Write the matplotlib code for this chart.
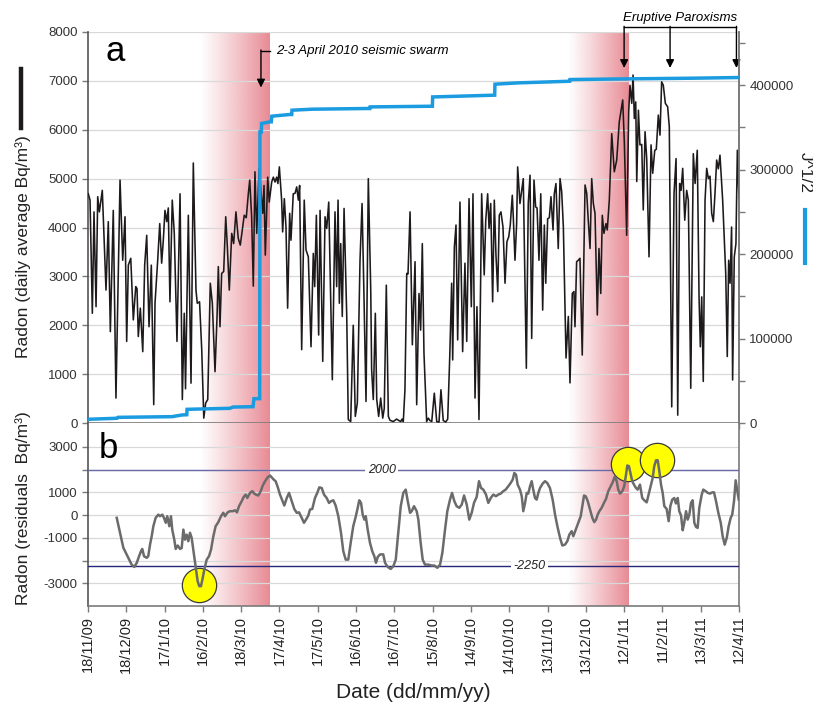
import matplotlib
matplotlib.use("Agg")
import matplotlib.pyplot as plt
import matplotlib.dates as mdates
import matplotlib.transforms as mtransforms
from matplotlib.lines import Line2D
import numpy as np
from datetime import datetime

plt.rcParams['font.family'] = ['Liberation Sans', 'DejaVu Sans']

# ---------------- data ----------------
start_date = "18/11/09"
tick_labels = ["18/11/09", "18/12/09", "17/1/10", "16/2/10", "18/3/10", "17/4/10",
               "17/5/10", "16/6/10", "16/7/10", "15/8/10", "14/9/10", "14/10/10",
               "13/11/10", "13/12/10", "12/1/11", "11/2/11", "13/3/11", "12/4/11"]

# radon daily average (days since 18/11/09, Bq/m3)
radon_day = [0.2,1.6,3.4,4.7,6.3,7.6,8.9,11.2,14.1,15.9,
             17.5,19.8,21.9,25.1,27.2,29.0,30.3,31.6,33.5,35.5,
             37.4,38.4,39.4,41.0,42.9,44.4,46.0,47.8,49.6,51.5,
             52.5,54.6,56.2,57.7,59.0,60.3,61.7,62.9,64.2,66.0,
             67.6,69.7,72.1,73.9,75.4,76.4,78.6,80.7,82.5,84.6,
             85.6,87.4,89.1,90.7,92.2,93.8,95.8,97.4,99.5,101.1,
             102.1,103.4,104.7,106.3,107.9,109.1,110.7,112.6,114.1,115.9,
             117.7,119.3,121.2,122.4,124.0,125.6,126.7,128.2,129.5,130.8,
             132.2,134.0,135.5,136.9,137.9,138.9,140.8,142.0,143.9,145.2,
             146.5,147.8,148.8,149.9,151.7,152.5,153.8,155.1,156.4,158.0,
             159.0,160.8,162.2,163.5,164.8,165.8,167.4,169.4,170.8,172.6,
             174.7,176.5,177.6,178.9,180.7,181.8,183.9,185.7,187.0,188.6,
             191.4,193.5,194.8,195.9,196.9,198.0,199.2,200.6,202.7,203.9,
             205.8,207.8,209.4,211.0,213.1,214.7,216.0,217.8,219.6,221.5,
             222.2,223.5,225.1,226.2,227.7,229.3,230.9,232.1,233.7,235.3,
             236.6,239.2,241.8,243.6,245.0,246.0,247.0,248.3,249.7,250.7,
             252.3,254.1,256.2,257.5,259.3,260.6,261.9,263.2,265.3,266.6,
             267.9,269.3,271.3,273.2,275.0,276.5,278.3,280.2,281.8,283.4,
             284.9,285.7,287.0,288.3,289.6,291.4,293.5,295.3,296.7,298.5,
             300.3,301.6,303.2,304.7,306.3,308.4,310.4,311.6,313.1,314.2,
             315.5,317.0,318.3,319.6,321.0,322.2,323.5,325.1,326.7,328.2,
             329.6,330.8,332.4,333.2,334.5,335.8,336.6,338.4,339.8,341.0,
             343.4,344.9,346.3,347.6,349.4,350.7,351.8,353.3,354.7,356.2,
             357.5,358.6,360.1,361.4,362.7,364.3,365.3,366.6,368.4,369.8,
             371.1,372.4,374.5,376.3,377.6,379.4,380.7,381.5,382.8,384.1,
             385.4,387.2,389.4,390.7,391.9,393.3,394.6,395.9,397.2,399.0,
             400.3,401.7,402.9,404.2,405.8,406.8,408.4,410.3,412.3,414.2,
             416.2,418.9,420.2,422.0,423.6,424.6,426.0,427.0,428.0,429.1,
             429.9,431.2,432.4,433.8,435.0,436.4,437.7,439.5,441.1,442.4,
             444.0,445.2,446.8,448.1,449.4,450.7,452.3,454.1,455.4,457.3,
             459.1,460.7,462.0,463.5,464.6,465.9,467.5,469.0,470.3,472.2,
             474.2,475.6,477.3,478.7,479.7,480.8,482.0,483.4,484.7,486.0,
             487.3,488.6,489.9,491.2,492.5,493.8,495.1,497.2,499.6,500.8,
             501.9,503.0,504.2,505.0,506.3,507.6,508.7,510.0]
radon_val = [4690,4560,2245,4320,2380,4630,4320,4760,2720,4120,
             1870,4350,510,4970,3330,4220,1670,3230,3370,2110,
             2790,2750,1770,2350,1460,3230,3840,1970,3230,375,
             2450,3330,4080,3270,3740,4350,4120,4400,2480,4560,
             3880,1670,4690,480,2245,700,4250,815,5320,2720,
             2450,2480,1500,100,410,480,2860,2450,1050,2180,
             3200,1970,3060,3100,4220,3640,2720,3880,3670,4320,
             3780,3640,4010,4250,4200,4690,4970,4220,2800,5140,
             3880,5200,4760,4290,4860,3435,5030,4520,4930,5030,
             4930,5030,4900,5240,4560,3910,4590,4010,2350,4290,
             3740,4690,4700,4830,4560,4860,1500,4560,3540,3400,
             1560,3470,2790,4250,1800,4350,1260,4220,3980,4520,
             885,4320,2790,4560,2450,3670,2180,4390,2180,70,
             30,2000,135,410,3330,4490,2860,440,5000,2720,
             1090,480,2245,480,135,510,100,300,2820,135,
             55,30,80,50,30,80,30,680,3060,3050,
             4320,1600,3300,375,2650,1900,3670,1430,30,100,
             50,30,610,30,20,680,50,20,80,1360,
             2860,1290,3600,4050,1700,4520,1460,3270,1670,4590,
             2380,4690,510,2380,70,4690,3030,4150,4690,3980,
             4490,2480,4560,3435,2690,4250,4320,4010,2860,3710,
             3810,4050,4660,4200,3330,4080,5240,4490,4760,5000,
             1120,4490,5070,1730,4970,4420,4400,3330,4690,2310,
             4050,2860,4180,4200,4630,3950,4690,4900,3570,5000,
             4730,4010,1330,2180,820,2650,2690,1970,3300,3330,
             3370,1390,4870,4700,4150,3570,5000,4490,4290,2210,
             3570,2650,4250,3880,4080,3950,4560,5920,5140,5380,
             6160,6610,5720,3840,6370,6910,6540,7120,6230,6570,
             4940,6400,5690,5700,4360,5960,5410,3400,5690,5110,
             5580,5600,6300,5890,6980,6910,6540,6470,6060,330,
             4700,5410,160,4900,4760,5210,4150,4760,4560,710,
             5510,4900,5580,2580,1560,2580,850,4560,5210,5000,
             5050,4290,4120,4700,5380,5200,5480,4560,3060,1360,
             3330,2860,4010,880,3400,3670,5580,4600]

# cumulative J^1/2 (days since 18/11/09)
cum_day = [0, 22.7, 23.5, 65.8, 73.6, 77.4, 77.6, 111.2, 113.6, 129.3, 130.0,
           134.5, 134.7, 135.8, 136.0, 142.6, 143.6, 144.0, 158.0, 159.6, 159.8,
           176.0, 218.6, 220.8, 221.0, 269.8, 270.0, 318.6, 318.8, 336.0, 377.4,
           377.6, 423.0, 474.0, 510.0]
cum_val = [4400, 5600, 6700, 7500, 9500, 9800, 16200, 17400, 18900, 19300, 28800,
           28800, 344700, 344700, 354700, 356600, 356600, 363300, 365300, 365300, 370400,
           371600, 372400, 372400, 374300, 375100, 386100, 388200, 401200, 402700, 404700,
           406700, 407500, 408300, 409100]

# radon residuals (days since 18/11/09, Bq/m3)
resid_day = [22.5,25.1,27.7,29.0,31.6,34.2,36.3,38.2,40.0,41.5,
             42.5,43.9,46.0,47.2,48.6,49.9,51.2,53.0,55.1,56.4,
             58.2,59.5,60.9,62.1,63.7,65.0,66.0,67.6,68.7,70.3,
             72.1,73.4,74.7,76.0,77.3,78.6,79.9,81.2,83.0,84.6,
             85.9,87.2,88.5,89.9,91.1,93.0,94.8,96.4,98.2,100.0,
             102.1,104.2,106.0,107.3,109.4,111.2,113.4,115.2,116.7,118.3,
             120.4,122.0,123.5,124.8,126.9,128.7,130.3,131.6,133.4,135.3,
             136.9,138.7,140.8,142.6,143.9,145.5,147.0,148.6,150.4,152.2,
             153.8,155.7,157.5,159.6,161.6,163.5,165.3,167.4,169.2,170.8,
             172.6,173.9,175.7,177.8,179.6,181.2,183.1,184.9,187.0,188.8,
             190.4,192.2,194.0,196.1,198.2,200.0,201.9,203.9,205.8,207.8,
             209.7,211.3,212.5,213.9,215.2,216.5,217.6,219.1,220.9,222.7,
             224.3,225.6,227.0,228.8,231.3,232.7,234.8,237.1,239.2,241.1,
             243.1,245.0,247.0,248.9,250.5,252.3,253.6,255.4,257.5,258.8,
             260.6,262.2,264.0,266.6,269.3,271.3,273.7,275.8,277.6,279.7,
             281.5,283.6,285.2,287.0,288.8,290.9,292.8,294.6,296.7,298.7,
             300.6,302.4,304.5,306.3,307.9,309.7,311.8,313.6,315.5,317.5,
             319.6,321.4,323.3,325.3,327.2,329.3,331.1,332.7,334.0,335.3,
             336.6,338.4,339.8,341.0,342.4,343.7,344.9,346.3,347.6,348.8,
             350.2,351.5,352.8,354.1,356.2,358.0,359.8,361.9,364.0,365.9,
             367.7,369.8,371.6,373.7,375.5,377.1,378.9,380.2,382.1,384.1,
             386.0,387.5,388.6,389.9,391.5,393.3,395.1,396.6,398.0,399.3,
             400.6,402.4,404.2,405.8,407.6,409.5,411.0,412.6,414.2,415.4,
             416.8,418.6,420.1,421.5,422.5,423.8,425.2,426.4,427.7,429.3,
             430.6,432.4,434.2,435.8,437.7,439.2,440.8,442.4,443.6,445.0,
             446.3,447.6,448.9,450.2,451.5,453.3,454.9,456.2,457.7,459.3,
             460.6,462.0,463.2,464.6,465.9,467.1,468.5,469.8,471.1,472.4,
             473.7,475.0,476.3,477.6,478.9,480.8,482.0,483.9,485.5,487.3,
             489.1,490.4,492.0,493.8,495.7,497.2,498.8,500.4,501.9,503.5,
             504.7,506.1,507.4,508.7,509.8]
resid_val = [-120,-780,-1440,-1590,-1880,-2180,-2280,-2100,-1810,-1590,
             -1490,-1810,-1880,-1810,-1300,-930,-490,-120,20,-50,
             20,-120,-340,-50,-490,-50,-640,-1080,-1490,-1340,
             -1490,-1450,-640,-1080,-860,-1150,-780,-1000,-1730,-2400,
             -2910,-3130,-3130,-2760,-2400,-1960,-1810,-1520,-930,-490,
             -310,-50,100,-50,120,170,170,210,120,390,
             610,800,900,750,975,1050,945,900,860,1050,
             1300,1490,1660,1740,1660,1560,1490,1240,900,650,
             420,750,975,610,270,100,120,-120,-340,-200,
             -20,240,270,750,975,1220,1190,900,750,535,
             610,650,420,-50,-780,-1590,-1960,-1960,-1220,-490,
             -80,320,650,535,20,-200,-50,-640,-1220,-1590,
             -1810,-2100,-1840,-1730,-1730,-2100,-2280,-2370,-2250,-1960,
             -780,390,975,1120,610,100,170,390,170,-200,
             -1220,-1960,-2180,-2180,-2220,-2220,-2320,-2180,-1660,-640,
             170,680,975,610,390,320,460,860,460,-200,
             100,535,800,1490,1190,1120,900,535,750,900,
             830,900,945,1050,1120,1270,1410,1560,1850,1780,
             1340,1120,830,170,535,975,945,1270,1490,1120,
             750,680,975,1190,1385,1490,1410,1190,680,20,
             -490,-1000,-1340,-1300,-1150,-860,-710,-930,-640,-340,
             -50,460,860,830,610,240,-120,-310,-200,20,
             170,320,535,710,1050,1270,1440,1680,1490,1120,
             945,1050,1270,1780,2180,2150,1780,1490,1340,1190,
             1120,1340,750,650,560,900,1270,1640,2150,2410,
             2410,1930,1340,975,390,270,-270,390,680,750,
             510,750,170,-20,-670,-340,170,-200,20,535,
             650,-340,-520,-565,320,900,1120,1050,975,945,
             1000,1000,610,100,-340,-930,-1300,-1000,-490,-120,
             20,610,1530,1050,680]

thresholds = [2000, -2250]
threshold_labels = ["2000", "-2250"]
threshold_label_day = [230, 346]

# shaded periods (days since start): fade start, sharp end
shade_periods = [(88, 142.6), (376, 423.3)]
# highlighted anomalies (day, residual)
anomaly_day = [87.1, 423.0, 445.9]
anomaly_val = [-3060, 2240, 2430]

swarm_date = datetime(2010, 4, 2, 12)
paroxysm_dates = [datetime(2011, 1, 12), datetime(2011, 2, 17), datetime(2011, 4, 10)]

# ---------------- figure ----------------
W, H = 813, 708
fig = plt.figure(figsize=(W / 100, H / 100), dpi=100)
L, R = 88, 739
ax1 = fig.add_axes([L / W, (H - 423) / H, (R - L) / W, (423 - 32) / H])
ax3 = fig.add_axes([L / W, (H - 606) / H, (R - L) / W, (606 - 423) / H], sharex=ax1)
ax2 = ax1.twinx()

t0 = mdates.date2num(datetime.strptime(start_date, "%d/%m/%y"))
tick_x = [mdates.date2num(datetime.strptime(s, "%d/%m/%y")) for s in tick_labels]

xr = t0 + np.array(radon_day)
xc = t0 + np.array(cum_day)
xs = t0 + np.array(resid_day)

black = "#1e1a1b"
blue = "#1b9be0"
gray_line = "#6b6b6b"
grid_c = "#d9d9d9"
spine_c = "#7a7a7a"
shade_rgb = np.array([232, 138, 148]) / 255.0

ax1.plot(xr, radon_val, color=black, lw=1.15, zorder=3, solid_joinstyle='round')
ax2.plot(xc, cum_val, color=blue, lw=2.5, zorder=3, solid_joinstyle='miter')
ax3.plot(xs, resid_val, color=gray_line, lw=1.8, zorder=4, solid_joinstyle='round')

ax1.set_ylim(0, 8000)
ax2.set_ylim(0, 463000)
ax3.set_ylim(-4000, 4050)


def shade(ax, d0, d1, ylo, yhi):
    n = 256
    g = np.zeros((2, n, 4))
    g[..., :3] = shade_rgb
    g[..., 3] = np.linspace(0, 1, n) ** 1.1
    ax.imshow(g, extent=[t0 + d0, t0 + d1, ylo, yhi], aspect='auto',
              interpolation='bilinear', zorder=0.2, origin='lower')


for d0, d1 in shade_periods:
    shade(ax1, d0, d1, 0, 8000)
    shade(ax3, d0, d1, -4000, 4050)

ax1.set_xlim(tick_x[0], tick_x[-1])
ax1.set_ylim(0, 8000)
ax3.set_ylim(-4000, 4050)

# thresholds
thr_colors = ["#6a6aaa", "#26267a"]
for v, lab, d, c in zip(thresholds, threshold_labels, threshold_label_day, thr_colors):
    ax3.axhline(v, color=c, lw=1.0, zorder=3)
    ax3.text(t0 + d, v, lab, ha='center', va='center', fontsize=9, style='italic',
             color="#222222", zorder=5,
             bbox=dict(facecolor='white', edgecolor='none', pad=1.5))

ax3.scatter(t0 + np.array(anomaly_day), anomaly_val, s=610, c="#ffff00",
            edgecolors="#3a3a3a", linewidths=0.9, zorder=3.5)

# grids
for ax in (ax1, ax3):
    ax.set_axisbelow(True)
    ax.yaxis.grid(True, color=grid_c, lw=0.9, zorder=0.5)
ax1.set_yticks(np.arange(0, 8001, 1000))
ax3.set_yticks(np.arange(-3000, 3001, 1000))
ax3.set_yticklabels(["-3000", "", "-1000", "0", "1000", "", "3000"])
ax2.set_yticks(np.arange(0, 400001, 100000))
ax2.set_yticks(np.arange(50000, 460000, 100000), minor=True)

ax1.set_xticks(tick_x)
ax3.set_xticks(tick_x)
ax3.set_xticklabels(tick_labels, rotation=90, fontsize=10.5, color="#222222")
plt.setp(ax1.get_xticklabels(), visible=False)

for ax in (ax1, ax2, ax3):
    ax.tick_params(direction='out', length=4, width=1, color=spine_c, labelsize=9.5,
                   labelcolor="#333333")
ax2.tick_params(which='minor', direction='out', length=4, width=1, color=spine_c)
ax3.tick_params(axis='x', labelsize=10.5, labelcolor="#222222", pad=3)

for ax in (ax1, ax2, ax3):
    for s in ax.spines.values():
        s.set_color(spine_c)
        s.set_linewidth(1.2)
ax1.spines['top'].set_visible(False)
ax2.spines['top'].set_visible(False)
ax2.spines['left'].set_visible(False)
ax2.spines['bottom'].set_visible(False)
ax1.spines['left'].set_color("#555555")
ax3.spines['left'].set_color("#555555")
ax3.spines['top'].set_visible(False)

# panel letters
ax1.text(0.042, 0.95, "a", transform=ax1.transAxes, fontsize=25, ha='center', va='center')
ax3.text(0.032, 0.86, "b", transform=ax3.transAxes, fontsize=25, ha='center', va='center')

# annotations
tr = mtransforms.blended_transform_factory(ax1.transData, ax1.transAxes)
xsw = mdates.date2num(swarm_date)
ax1.plot([xsw, xsw + 7], [0.952, 0.952], color='k', lw=1, transform=tr, clip_on=False, zorder=6)
ax1.annotate("", xy=(xsw, 0.858), xycoords=tr, xytext=(xsw, 0.954), textcoords=tr,
             arrowprops=dict(arrowstyle='-|>', color='k', lw=1, mutation_scale=12,
                             shrinkA=0, shrinkB=0), annotation_clip=False, zorder=6)
ax1.text(xsw + 11.5, 0.952, "2-3 April 2010 seismic swarm", transform=tr, fontsize=9.5,
         style='italic', ha='left', va='center', zorder=6)

xp = [mdates.date2num(d) for d in paroxysm_dates]
ax1.plot([xp[0], xp[-1]], [1.0128, 1.0128], color='k', lw=1, transform=tr, clip_on=False, zorder=6)
for x in xp:
    ax1.annotate("", xy=(x, 0.908), xycoords=tr, xytext=(x, 1.0145), textcoords=tr,
                 arrowprops=dict(arrowstyle='-|>', color='k', lw=1, mutation_scale=12,
                                 shrinkA=0, shrinkB=0), annotation_clip=False, zorder=6)
ax1.text((xp[0] + xp[-1]) / 2, 1.037, "Eruptive Paroxisms", transform=tr, fontsize=9.5,
         style='italic', ha='center', va='center')

# axis labels
fig.text(23 / W, 1 - 247 / H, "Radon (daily average Bq/m³)", rotation=90, ha='center',
         va='center', fontsize=12.5, color="#222222")
fig.text(23 / W, 1 - 508 / H, "Radon (residuals  Bq/m³)", rotation=90, ha='center',
         va='center', fontsize=12.5, color="#222222")
fig.text(805 / W, 1 - 172 / H, "J^1/2", rotation=270, ha='center', va='center',
         fontsize=12.5, color="#222222")
fig.text(413 / W, 1 - 692 / H, "Date (dd/mm/yy)", ha='center', va='center', fontsize=15,
         color="#222222")
fig.add_artist(Line2D([21 / W, 21 / W], [1 - 69 / H, 1 - 128 / H], color=black, lw=3.2))
fig.add_artist(Line2D([805 / W, 805 / W], [1 - 210 / H, 1 - 263 / H], color=blue, lw=3.0))

fig.savefig("out.png", dpi=100)
